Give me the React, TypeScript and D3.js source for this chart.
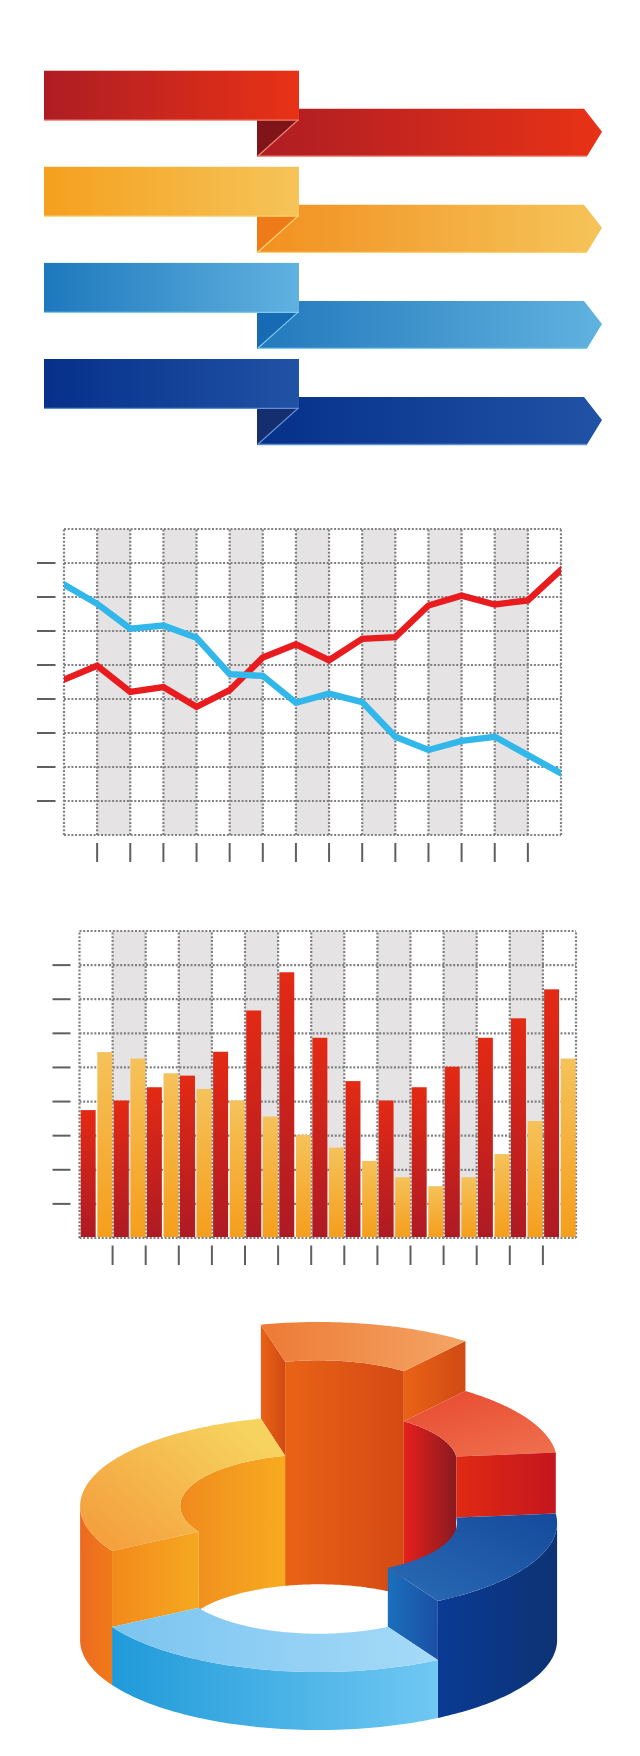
import React from "react";
import * as d3 from "d3";

// Ribbons
const ribbonNames = ["red", "amber", "sky", "navy"];
const ribbonFrom = ["#AE1D24", "#F5A01E", "#1E78BD", "#06308A"];
const ribbonLowerFrom = ["#AE1D24", "#F29020", "#2279BC", "#06308A"];
const ribbonTo = ["#E83216", "#F5C459", "#60B2DF", "#2052A5"];
const ribbonFold = ["#7F1519", "#EE7A18", "#176BB4", "#142E70"];
const ribbonEdge = ["#EF8070", "#FBD070", "#7FCBF0", "#5E8FD0"];

// Line chart (rows of the grid, 0 at the bottom)
const lineRed = [4.57, 4.98, 4.21, 4.35, 3.77, 4.26, 5.22, 5.61, 5.14, 5.77, 5.82, 6.75, 7.04, 6.78, 6.9, 7.8];
const lineBlue = [7.37, 6.8, 6.07, 6.16, 5.8, 4.73, 4.68, 3.89, 4.16, 3.91, 2.89, 2.5, 2.77, 2.89, 2.35, 1.81];

// Bar chart
const barRed = [3.75, 4.03, 4.42, 4.76, 5.46, 6.67, 7.79, 5.87, 4.6, 4.03, 4.42, 5.02, 5.87, 6.44, 7.29];
const barAmber = [5.45, 5.26, 4.83, 4.37, 4.03, 3.56, 3.02, 2.65, 2.26, 1.78, 1.52, 1.78, 2.46, 3.43, 5.26];

// 3D ring: slice sizes in degrees and extruded heights, clockwise from the tall slice
const ringNames = ["orange", "red", "navy", "sky", "amber"];
const ringSizes = [52, 46, 66, 90, 106];
const ringHeights = [228, 178, 117, 58, 134];

const rows = d3.range(0, 10);
const cols = d3.range(0, 16);
const GREY = "#E5E3E4";
const TICK = "#5F5F5F";
const DOT = "#808080";

function Grid({ x, y }: { x: any; y: any }) {
  const [x0, x1] = x.range();
  const [y0, y1] = y.range();
  return (
    <g>
      {cols.slice(0, 15).filter((c) => c % 2 === 1).map((c) => (
        <rect key={c} x={x(c)} y={y1} width={x(c + 1) - x(c)} height={y0 - y1} fill={GREY} />
      ))}
      <g stroke={DOT} strokeWidth={2.2} strokeDasharray="2 1.7" fill="none">
        {rows.map((r) => <line key={r} x1={x0} x2={x1} y1={y(r)} y2={y(r)} />)}
        {cols.map((c) => <line key={c} x1={x(c)} x2={x(c)} y1={y0} y2={y1} />)}
      </g>
    </g>
  );
}

function Ticks({ x, y, yx, xy }: { x: any; y: any; yx: [number, number]; xy: [number, number] }) {
  return (
    <g stroke={TICK} strokeWidth={2}>
      {rows.slice(1, 9).map((r) => <line key={r} x1={yx[0]} x2={yx[1]} y1={y(r)} y2={y(r)} />)}
      {cols.slice(1, 15).map((c) => <line key={c} x1={x(c)} x2={x(c)} y1={xy[0]} y2={xy[1]} />)}
    </g>
  );
}

function Ribbons() {
  const top = d3.scaleLinear().domain([0, 3]).range([70.7, 359]);
  const xA = d3.scaleLinear().domain([0, 1]).range([44, 299]);
  const xB = d3.scaleLinear().domain([0, 1]).range([257, 602]);
  return (
    <g>
      <defs>
        {ribbonNames.map((n, i) => (
          <React.Fragment key={n}>
            <linearGradient id={"rb-" + n}>
              <stop offset="0" stopColor={ribbonFrom[i]} />
              <stop offset="1" stopColor={ribbonTo[i]} />
            </linearGradient>
            <linearGradient id={"rl-" + n}>
              <stop offset="0" stopColor={ribbonLowerFrom[i]} />
              <stop offset="1" stopColor={ribbonTo[i]} />
            </linearGradient>
          </React.Fragment>
        ))}
      </defs>
      {ribbonNames.map((n, i) => {
        const t = top(i);
        const path = d3.line()([
          [xA(1) - 2, t + 38],
          [584, t + 38],
          [xB(1), t + 61],
          [587, t + 85.5],
          [xB(0) + 1, t + 85.5],
          [xA(1) - 1, t + 49],
        ] as any) as string;
        return (
          <g key={n}>
            <path d={path} fill={`url(#rl-${n})`} />
            <path d={`M${xB(0)},${t + 85.5}H587`} stroke={ribbonEdge[i]} strokeWidth={1.3} />
            <path d={`M${xB(0)},${t + 49}L${xA(1)},${t + 49}L${xB(0)},${t + 86}Z`} fill={ribbonFold[i]} />
            <path d={`M${xB(0) + 0.6},${t + 85.5}L${xA(1) - 0.6},${t + 49}`} stroke={ribbonEdge[i]} strokeWidth={1.2} />
            <rect x={xA(0)} y={t} width={xA(1) - xA(0)} height={49.4} fill={`url(#rb-${n})`} />
            <path d={`M${xA(0)},${t + 49.4}H${xA(1)}`} stroke={ribbonEdge[i]} strokeWidth={1.3} />
          </g>
        );
      })}
    </g>
  );
}

function LineChart() {
  const x = d3.scaleLinear().domain([0, 15]).range([64, 561]);
  const y = d3.scaleLinear().domain([0, 9]).range([835, 529]);
  const line = d3.line<number>().x((_, i) => x(i)).y((d) => y(d)).curve(d3.curveLinear);
  return (
    <g>
      <Grid x={x} y={y} />
      <Ticks x={x} y={y} yx={[37, 55.5]} xy={[843, 862]} />
      <clipPath id="lineClip"><rect x={64} y={529} width={497} height={306} /></clipPath>
      <g clipPath="url(#lineClip)" fill="none" strokeWidth={6.4} strokeLinecap="square">
        <path d={line(lineRed) as string} stroke="#E81B1E" />
        <path d={line(lineBlue) as string} stroke="#31B7EA" />
      </g>
    </g>
  );
}

function BarChart() {
  const x = d3.scaleLinear().domain([0, 15]).range([79.5, 576]);
  const y = d3.scaleLinear().domain([0, 9]).range([1238, 931]);
  const band = d3.scaleBand<number>().domain(d3.range(15)).range([79.5, 576]);
  const sub = d3.scaleBand<string>().domain(["red", "amber"]).range([1.2, band.bandwidth() - 0.3]).paddingInner(0.1);
  return (
    <g>
      <defs>
        <linearGradient id="barRed" x1="0" x2="0" y1="0" y2="1">
          <stop offset="0" stopColor="#E32A14" />
          <stop offset="1" stopColor="#AE1A24" />
        </linearGradient>
        <linearGradient id="barAmber" x1="0" x2="0" y1="0" y2="1">
          <stop offset="0" stopColor="#F5C25A" />
          <stop offset="1" stopColor="#F59E1C" />
        </linearGradient>
      </defs>
      <Grid x={x} y={y} />
      <Ticks x={x} y={y} yx={[52.5, 70.5]} xy={[1245.5, 1265]} />
      {barRed.map((v, i) => (
        <rect key={i} x={(band(i) as number) + (sub("red") as number)} y={y(v)} width={sub.bandwidth()} height={y(0) - y(v) - 1} fill="url(#barRed)" />
      ))}
      {barAmber.map((v, i) => (
        <rect key={i} x={(band(i) as number) + (sub("amber") as number)} y={y(v)} width={sub.bandwidth()} height={y(0) - y(v) - 1} fill="url(#barAmber)" />
      ))}
    </g>
  );
}

function Ring() {
  const deg = Math.PI / 180;
  const cx = 318.6, cy = 1640;
  const aOut = 238.5, bOut = 90, aIn = 138.4, bIn = 51.7;
  const pie = d3.pie<number>().sort(null).value((d) => d).startAngle(-14 * deg).endAngle(346 * deg);
  const arcs = pie(ringSizes).map((a) => [a.startAngle / deg, a.endAngle / deg]);
  const pt = (t: number, outer: boolean, h: number): [number, number] => [
    cx + (outer ? aOut : aIn) * Math.sin(t * deg),
    cy - h - (outer ? bOut : bIn) * Math.cos(t * deg),
  ];
  const sweep = (t0: number, t1: number, outer: boolean, h: number) =>
    d3.range(0, 61).map((i) => pt(t0 + ((t1 - t0) * i) / 60, outer, h));
  const poly = d3.line();
  const closed = (p: [number, number][]) => (poly(p) as string) + "Z";
  const wall = (t0: number, t1: number, outer: boolean, h0: number, h1: number) =>
    closed([...sweep(t0, t1, outer, h1), ...sweep(t0, t1, outer, h0).reverse()]);
  const topFace = (t0: number, t1: number, h: number) =>
    closed([...sweep(t0, t1, true, h), ...sweep(t0, t1, false, h).reverse()]);
  const cut = (t: number, h0: number, h1: number) =>
    closed([pt(t, false, h1), pt(t, true, h1), pt(t, true, h0), pt(t, false, h0)]);

  const [oA, rA, nA, sA, aA] = arcs;
  const [oH, rH, nH, sH, aH] = ringHeights;
  const base = 4;
  const grads: [string, string, string, number?, number?, number?, number?][] = [
    ["g-am-top", "#F4A13E", "#F6D25F", 0, 0.75, 0.8, 0.1],
    ["g-am-in", "#F08A1E", "#F7AC1F"],
    ["g-am-cut", "#F28A1C", "#F5A820"],
    ["g-am-out", "#EC6A21", "#F07A18"],
    ["g-or-top", "#ED7A35", "#F4A565"],
    ["g-or-in", "#E96316", "#D44A14"],
    ["g-or-cut", "#E96316", "#D04A14"],
    ["g-re-top", "#E84A30", "#EE6E4C", 0.1, 0, 0.8, 1],
    ["g-re-in", "#E6201C", "#8A1A20"],
    ["g-re-cut", "#E02A14", "#C4161E"],
    ["g-na-top", "#2A6BB5", "#154A9C", 0, 1, 1, 0],
    ["g-na-cut", "#1A70BC", "#1A4FA5"],
    ["g-na-out", "#0A3A94", "#0D3374"],
    ["g-sk-top", "#7AC4F0", "#A6DAF8"],
    ["g-sk-out", "#1F9AD9", "#70C8F2"],
  ];
  return (
    <g>
      <defs>
        {grads.map(([id, a, b, x1 = 0, y1 = 0, x2 = 1, y2 = 0]) => (
          <linearGradient key={id} id={id} x1={x1} y1={y1} x2={x2} y2={y2}>
            <stop offset="0" stopColor={a} />
            <stop offset="1" stopColor={b} />
          </linearGradient>
        ))}
      </defs>
      {/* back walls */}
      <path d={wall(aA[0], aA[1], false, base, aH)} fill="url(#g-am-in)" />
      <path d={wall(oA[0], oA[1], false, base, oH)} fill="url(#g-or-in)" />
      <path d={wall(rA[0], rA[1], false, base + 30, rH)} fill="url(#g-re-in)" />
      {/* radial faces of the tall slice */}
      <path d={cut(oA[0], aH, oH)} fill="url(#g-or-cut)" />
      <path d={cut(oA[1], rH, oH)} fill="url(#g-or-cut)" />
      {/* tops */}
      <path d={topFace(aA[0], aA[1], aH)} fill="url(#g-am-top)" />
      <path d={topFace(oA[0], oA[1], oH)} fill="url(#g-or-top)" />
      <path d={topFace(rA[0], rA[1], rH)} fill="url(#g-re-top)" />
      <path d={cut(rA[1], nH, rH)} fill="url(#g-re-cut)" />
      {/* navy */}
      <path d={cut(nA[1], sH, nH)} fill="url(#g-na-cut)" />
      <path d={wall(90, nA[1], true, 0, nH)} fill="url(#g-na-out)" />
      <path d={topFace(nA[0], nA[1], nH)} fill="url(#g-na-top)" />
      {/* amber front */}
      <path d={wall(aA[0], 270, true, 0, aH)} fill="url(#g-am-out)" />
      <path d={cut(aA[0], sH, aH)} fill="url(#g-am-cut)" />
      {/* sky */}
      <path d={wall(sA[0], sA[1], true, 0, sH)} fill="url(#g-sk-out)" />
      <path d={topFace(sA[0], sA[1], sH)} fill="url(#g-sk-top)" />
    </g>
  );
}

export default function App() {
  return (
    <svg width={640} height={1756} viewBox="0 0 640 1756" style={{ position: "absolute", left: 0, top: 0, display: "block", background: "#fff" }}>
      <Ribbons />
      <LineChart />
      <BarChart />
      <Ring />
    </svg>
  );
}
